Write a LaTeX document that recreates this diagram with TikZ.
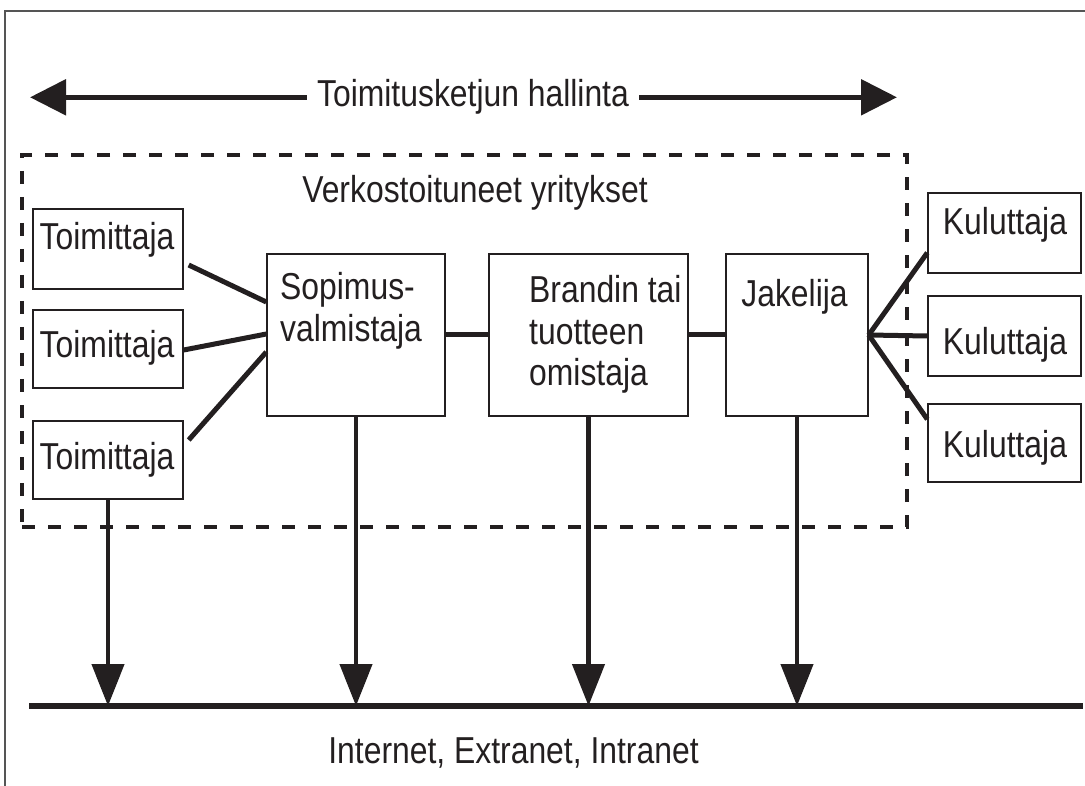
\documentclass[tikz,border=0pt]{standalone}
\usepackage{fontspec}
\setmainfont{Liberation Sans}[FakeStretch=0.85]
\usetikzlibrary{arrows.meta,calc}
\definecolor{ink}{HTML}{231F20}
\definecolor{framec}{HTML}{555555}
\begin{document}
\begin{tikzpicture}[x=1pt,y=-1pt,
  lbl/.style={font=\fontsize{37.5}{42}\selectfont, inner sep=0pt, text=ink},
  boxnode/.style={draw=ink, line width=1.4pt, inner sep=0pt, minimum width=#1},
  conn/.style={draw=ink, line width=5pt},
  downarrow/.style={draw=ink, line width=4.5pt, -{Triangle[length=42pt,width=32pt]}},
  toparrow/.style={draw=ink, line width=5.5pt, -{Triangle[length=36pt,width=35pt]}},
  dashbox/.style={draw=ink, line width=4.5pt, dash pattern=on 13pt off 13pt, inner sep=0pt}
]
\useasboundingbox (0,0) rectangle (1085,786);
% outer frame (cropped)
\draw[framec, line width=1.5pt] (5,790) -- (5,11) -- (1090,11);

% top arrow with label
\node[lbl, anchor=base, inner xsep=10pt] (scm) at (473,107) {Toimitusketjun hallinta};
\coordinate (lefttip) at (30,96);
\coordinate (righttip) at (897,96);
\draw[toparrow] (scm.west) -- (scm.west -| lefttip);
\draw[toparrow] (scm.east) -- (scm.east -| righttip);

% dashed network box
\node[dashbox, minimum width=885pt, minimum height=372pt] (netw) at (464.5,341) {};
\node[lbl, anchor=base] (netlbl) at (475,203) {Verkostoituneet yritykset};

% supplier boxes
\node[boxnode=150pt, minimum height=80pt] (t1) at (108,249) {};
\node[boxnode=150pt, minimum height=78pt] (t2) at (108,349) {};
\node[boxnode=150pt, minimum height=78pt] (t3) at (108,460) {};
\node[lbl, anchor=base] (t1l) at (107,250) {Toimittaja};
\node[lbl, anchor=base] (t2l) at (107,358) {Toimittaja};
\node[lbl, anchor=base] (t3l) at (107,469) {Toimittaja};

% main chain
\node[boxnode=178pt, minimum height=162pt] (sop) at (356,335) {};
\node[lbl, anchor=base west] (sopl1) at (280,300) {Sopimus-};
\node[lbl, anchor=base west] (sopl2) at (280,342) {valmistaja};

\node[boxnode=199pt, minimum height=162pt] (bra) at (588.5,335) {};
\node[lbl, anchor=base west] (bral1) at (529,303) {Brandin tai};
\node[lbl, anchor=base west] (bral2) at (529,345) {tuotteen};
\node[lbl, anchor=base west] (bral3) at (529,385) {omistaja};

\node[boxnode=142pt, minimum height=162pt] (jak) at (797,335) {};
\node[lbl, anchor=base] (jakl) at (794.5,307) {Jakelija};

% consumer boxes
\node[boxnode=153pt, minimum height=80pt] (k1) at (1004.5,233) {};
\node[boxnode=153pt, minimum height=80pt] (k2) at (1004.5,336) {};
\node[boxnode=153pt, minimum height=78pt] (k3) at (1004.5,443) {};
\node[lbl, anchor=base] (k1l) at (1005,235) {Kuluttaja};
\node[lbl, anchor=base] (k2l) at (1005,355) {Kuluttaja};
\node[lbl, anchor=base] (k3l) at (1005,457) {Kuluttaja};

% connectors
\draw[conn] ([xshift=5pt,yshift=-16pt]t1.east) -- ([yshift=33pt]sop.west);
\draw[conn] ([yshift=-1pt]t2.east) -- ([yshift=1pt]sop.west);
\draw[conn] ([xshift=5pt,yshift=20pt]t3.east) -- ([yshift=-17pt]sop.west);
\draw[conn] (sop.east) -- (bra.west);
\draw[conn] (bra.east) -- (jak.west);
\draw[conn] (jak.east) -- ([yshift=21pt]k1.south west);
\draw[conn] (jak.east) -- (k2.west);
\draw[conn] (jak.east) -- ([yshift=-16pt]k3.north west);

% network line
\coordinate (netL) at (29,706);
\coordinate (netR) at (1083,706);
\draw[ink, line width=6pt] (netL) -- (netR);
\node[lbl, anchor=base] (netname) at (513.5,763) {Internet, Extranet, Intranet};

% down arrows
\draw[downarrow] (t3.south) -- (t3.south |- netL);
\draw[downarrow] (sop.south) -- (sop.south |- netL);
\draw[downarrow] (bra.south) -- (bra.south |- netL);
\draw[downarrow] (jak.south) -- (jak.south |- netL);
\end{tikzpicture}
\end{document}
